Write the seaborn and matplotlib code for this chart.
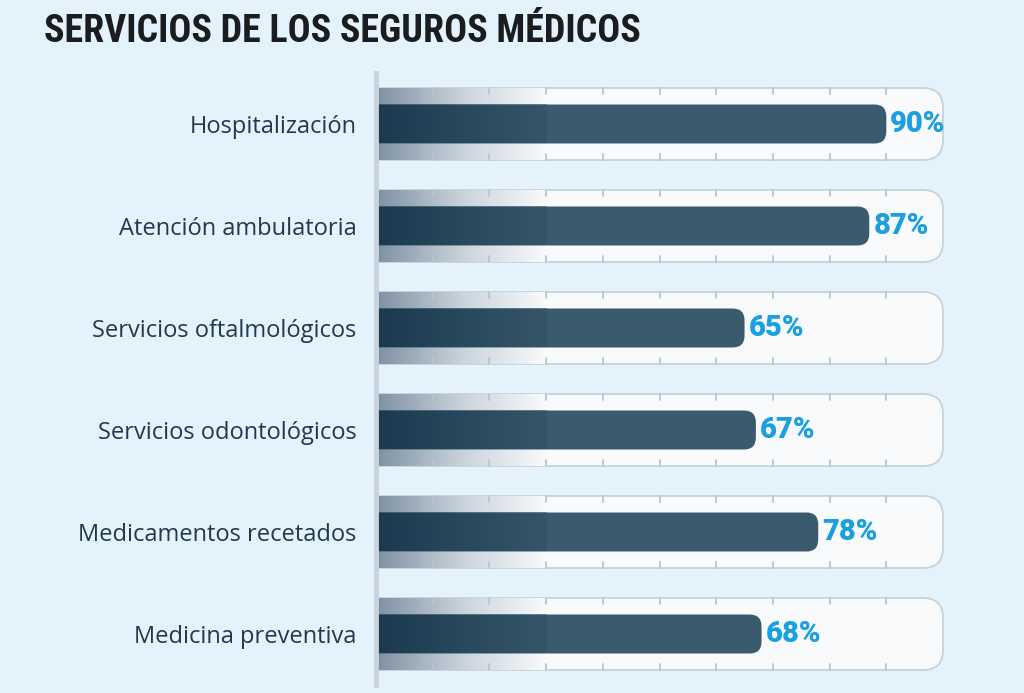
import numpy as np
import pandas as pd
import matplotlib
matplotlib.use("Agg")
import matplotlib.pyplot as plt
import seaborn as sns
from matplotlib import font_manager
from matplotlib.patches import FancyBboxPatch
from matplotlib.colors import LinearSegmentedColormap

# ---- data ----
categories = ["Hospitalización", "Atención ambulatoria", "Servicios oftalmológicos",
              "Servicios odontológicos", "Medicamentos recetados", "Medicina preventiva"]
values = [90, 87, 65, 67, 78, 68]
value_labels = ["90%", "87%", "65%", "67%", "78%", "68%"]
grid_ticks = [10, 20, 30, 40, 50, 60, 70, 80, 90]
title = "SERVICIOS DE LOS SEGUROS MÉDICOS"

# ---- style ----
W, H = 1024, 693
BG = "#e3f2fb"
BAR = "#3a5b6e"
BAR_DARK = "#1b3a50"
TRACK_FACE = "#f9fafb"
TRACK_EDGE = "#c6d3dd"
TICK_C = "#b8c6d1"
LABEL_C = "#22394f"
VALUE_C = "#1a9fe0"

sns.set_theme(style="white")
plt.rcParams["font.family"] = ["Roboto", "DejaVu Sans"]

installed = {f.name for f in font_manager.fontManager.ttflist}
title_family = "Roboto"
for cand in ["Roboto Condensed", "Liberation Sans Narrow", "DejaVu Sans Condensed"]:
    if cand in installed:
        title_family = cand
        break

fig = plt.figure(figsize=(W / 100, H / 100), dpi=100, facecolor=BG)

px_x = 5.67      # pixels per 1 %
px_y = 102.0     # pixels per category row
xmax = 110
ax_top, ax_bot, ax_left = 73, 685, 376
ax = fig.add_axes([ax_left / W, 1 - ax_bot / H, xmax * px_x / W, (ax_bot - ax_top) / H])
ax.set_facecolor(BG)

df = pd.DataFrame({"cat": categories, "val": values})
sns.barplot(data=df, x="val", y="cat", orient="h", width=39 / px_y, color=BAR,
            saturation=1, ax=ax, zorder=3)
ax.set_xlim(0, xmax)
ax.set_ylim(len(categories) - 0.5, -0.5)

ma = px_x / px_y
track_h = 72 / px_y
track_r = 20 / px_x
bar_r = 12 / px_x

track_cmap = LinearSegmentedColormap.from_list("tr", ["#7d90a2", "#c9d2db", TRACK_FACE])
bar_cmap = LinearSegmentedColormap.from_list("br", [BAR_DARK, "#355669"])
grad = np.linspace(0, 1, 256).reshape(1, -1)

bars = list(ax.patches)
for i, p in enumerate(bars):
    x0, y0, w, h = p.get_x(), p.get_y(), p.get_width(), p.get_height()
    yc = y0 + h / 2
    p.remove()
    track = FancyBboxPatch((-10, yc - track_h / 2), 110, track_h,
                           boxstyle=f"round,pad=0,rounding_size={track_r}",
                           mutation_aspect=ma, facecolor=TRACK_FACE,
                           edgecolor=TRACK_EDGE, lw=1.3, zorder=1)
    ax.add_patch(track)
    im = ax.imshow(grad, extent=(0, 30, yc + track_h / 2, yc - track_h / 2),
                   cmap=track_cmap, aspect="auto", zorder=1.5, interpolation="bilinear")
    im.set_clip_path(track)
    tl = 6 / px_y
    for t in grid_ticks:
        ax.plot([t, t], [yc - track_h / 2, yc - track_h / 2 + tl], color=TICK_C, lw=1.3, zorder=2)
        ax.plot([t, t], [yc + track_h / 2, yc + track_h / 2 - tl], color=TICK_C, lw=1.3, zorder=2)
    bar = FancyBboxPatch((-5, y0), w + 5, h,
                         boxstyle=f"round,pad=0,rounding_size={bar_r}",
                         mutation_aspect=ma, facecolor=BAR, edgecolor="none", zorder=3)
    ax.add_patch(bar)
    imb = ax.imshow(grad, extent=(0, 30, y0 + h, y0), cmap=bar_cmap,
                    aspect="auto", zorder=3.5, interpolation="bilinear")
    imb.set_clip_path(bar)
    ax.text(w + 4 / px_x, yc, value_labels[i], va="center", ha="left",
            color=VALUE_C, fontsize=21, fontweight="heavy",
            family=["Roboto", "DejaVu Sans"], zorder=5)

ax.set_xlim(0, xmax)
ax.set_ylim(len(categories) - 0.5, -0.5)
ax.set_xlabel("")
ax.set_ylabel("")
ax.set_xticks([])
ax.tick_params(axis="y", length=0, pad=14, labelsize=17, labelcolor=LABEL_C)
for lab in ax.get_yticklabels():
    lab.set_family(["Open Sans", "DejaVu Sans"])
for s in ["top", "right", "bottom"]:
    ax.spines[s].set_visible(False)
ax.spines["left"].set_color("#c9d4dd")
ax.spines["left"].set_linewidth(3.5)
ax.spines["left"].set_zorder(4)

ttl = fig.text(44 / W, 1 - 31 / H, title, fontsize=28, fontweight="bold",
               family=[title_family, "DejaVu Sans"], color="#1a1c1f",
               va="center", ha="left")
# fit the title to the reference width (~598 px)
renderer = fig.canvas.get_renderer()
tw = ttl.get_window_extent(renderer).width
ttl.set_fontsize(min(28, 28 * 598 / tw))

fig.savefig("out.png", dpi=100, facecolor=BG)
